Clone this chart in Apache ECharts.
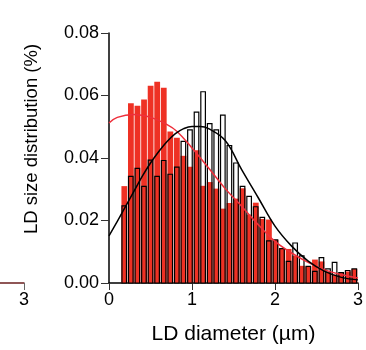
<!DOCTYPE html>
<html>
<head>
<meta charset="utf-8">
<script src="https://cdn.jsdelivr.net/npm/echarts@6/dist/echarts.min.js"></script>
<style>html,body{margin:0;padding:0;background:#fff}#c{width:366px;height:350px}</style>
</head>
<body>
<div id="c"></div>
<script>
var binCenters = [0.1846,0.2638,0.3430,0.4222,0.5014,0.5806,0.6598,0.7390,0.8182,0.8974,0.9766,1.0558,1.1350,1.2142,1.2934,1.3726,1.4518,1.5310,1.6102,1.6894,1.7686,1.8478,1.9270,2.0062,2.0854,2.1646,2.2438,2.3230,2.4022,2.4814,2.5606,2.6398,2.7190,2.7982,2.8774,2.9566];
var redValues = [0.031,0.0575,0.0567,0.0587,0.0631,0.0644,0.0625,0.0485,0.0465,0.0407,0.0372,0.0425,0.0311,0.0323,0.0302,0.0238,0.0256,0.027,0.0303,0.0219,0.0257,0.0205,0.0203,0.0138,0.0112,0.0109,0.0087,0.0055,0.0053,0.0075,0.0069,0.0037,0.0027,0.0034,0.0037,0.0045];
var blackValues = [0.0247,0.0341,0.0367,0.0309,0.0393,0.0341,0.0392,0.0348,0.0371,0.0453,0.049,0.0547,0.0612,0.051,0.049,0.0537,0.044,0.0384,0.0309,0.0277,0.0244,0.021,0.0135,0.0138,0.011,0.0069,0.0128,0.0087,0.0053,0.0037,0.0081,0.0045,0.0066,0.0033,0.004,0.0045];
var redFitX = [0,0.1,0.3,0.5,0.7,0.82,1.0,1.2,1.4,1.6,1.8,2.0,2.2,2.4,2.6,2.8,3.0];
var redFitY = [0.0512,0.053,0.0539,0.053,0.0507,0.0485,0.0432,0.0368,0.0302,0.0245,0.0186,0.0133,0.0096,0.0066,0.0042,0.0027,0.0016];
var blackFitX = [0,0.1,0.2,0.3,0.4,0.5,0.6,0.7,0.8,0.9,1.0,1.1,1.2,1.4,1.6,1.8,2.0,2.2,2.4,2.6,2.8,3.0];
var blackFitY = [0.0151,0.0197,0.0245,0.0293,0.0341,0.0384,0.0421,0.0453,0.0478,0.0494,0.0501,0.0501,0.0494,0.0456,0.0362,0.0272,0.0182,0.0118,0.0070,0.0037,0.0018,0.0010];
var xTicks = [0,1,2,3];
var yTicks = [0,0.02,0.04,0.06,0.08];
var neighbourTicks = [3];
var xName = 'LD diameter (µm)';
var yName = 'LD size distribution (%)';
var binWidth = 0.0792;

function zip(a,b){return a.map(function(v,i){return [v,b[i]];});}

function makeBars(fill){
  return function(params, api){
    var c = api.value(0), v = api.value(1);
    var p0 = api.coord([c - binWidth/2, 0]);
    var p1 = api.coord([c + binWidth/2, v]);
    if (fill) {
      return {type:'rect', shape:{x:p0[0]+0.4, y:p1[1], width:p1[0]-p0[0]-0.8, height:p0[1]-p1[1]},
        style:{fill:'#ee3124'}};
    }
    return {type:'rect', shape:{x:p0[0]+0.9, y:p1[1], width:p1[0]-p0[0]-2, height:p0[1]-p1[1]},
      style:{fill:'none', stroke:'#000', lineWidth:1.2}};
  };
}

var font = 'Liberation Sans';
var chart = echarts.init(document.getElementById('c'), null, {renderer:'canvas'});
chart.setOption({
  animation:false,
  grid:[
    {left:109, right:6, top:33, bottom:67},
    {left:0, width:24, top:33, bottom:67}
  ],
  xAxis:[{
    type:'value', gridIndex:0, min:xTicks[0], max:xTicks[xTicks.length-1], interval:1,
    axisLine:{lineStyle:{color:'#000', width:1.5}},
    axisTick:{length:7, lineStyle:{color:'#333', width:1}},
    axisLabel:{fontFamily:font, fontSize:18, color:'#000', margin:8},
    splitLine:{show:false},
    name:xName, nameLocation:'middle', nameGap:41,
    nameTextStyle:{fontFamily:font, fontSize:21, color:'#000'}
  },{
    type:'value', gridIndex:1, min:0, max:3,
    axisLine:{lineStyle:{color:'#6b1f1f', width:1.5}},
    axisTick:{length:7, customValues:neighbourTicks, lineStyle:{color:'#666', width:1}},
    axisLabel:{fontFamily:font, fontSize:18, color:'#000', margin:8, customValues:neighbourTicks},
    splitLine:{show:false}
  }],
  yAxis:[{
    type:'value', gridIndex:0, min:yTicks[0], max:yTicks[yTicks.length-1], interval:0.02,
    axisLine:{show:true, lineStyle:{color:'#000', width:1.5}},
    axisTick:{show:true, length:8, lineStyle:{color:'#333', width:1}},
    axisLabel:{fontFamily:font, fontSize:18, color:'#000', margin:10, formatter:function(v){return v.toFixed(2);}},
    splitLine:{show:false},
    name:yName, nameLocation:'middle', nameGap:68,
    nameTextStyle:{fontFamily:font, fontSize:18.5, color:'#000', padding:[0,0,0,38]}
  },{
    type:'value', gridIndex:1, min:0, max:0.08, show:false
  }],
  series:[
    {type:'custom', xAxisIndex:0, yAxisIndex:0, renderItem:makeBars(true), data:zip(binCenters, redValues), z:1, clip:false},
    {type:'custom', xAxisIndex:0, yAxisIndex:0, renderItem:makeBars(false), data:zip(binCenters, blackValues), z:2, clip:false},
    {type:'line', xAxisIndex:0, yAxisIndex:0, data:zip(redFitX, redFitY), smooth:0.4, showSymbol:false, symbol:'none',
      lineStyle:{color:'#ee2f3b', width:1.5}, z:3},
    {type:'line', xAxisIndex:0, yAxisIndex:0, data:zip(blackFitX, blackFitY), smooth:0.4, showSymbol:false, symbol:'none',
      lineStyle:{color:'#000', width:1.5}, z:4}
  ]
});
</script>
</body>
</html>
